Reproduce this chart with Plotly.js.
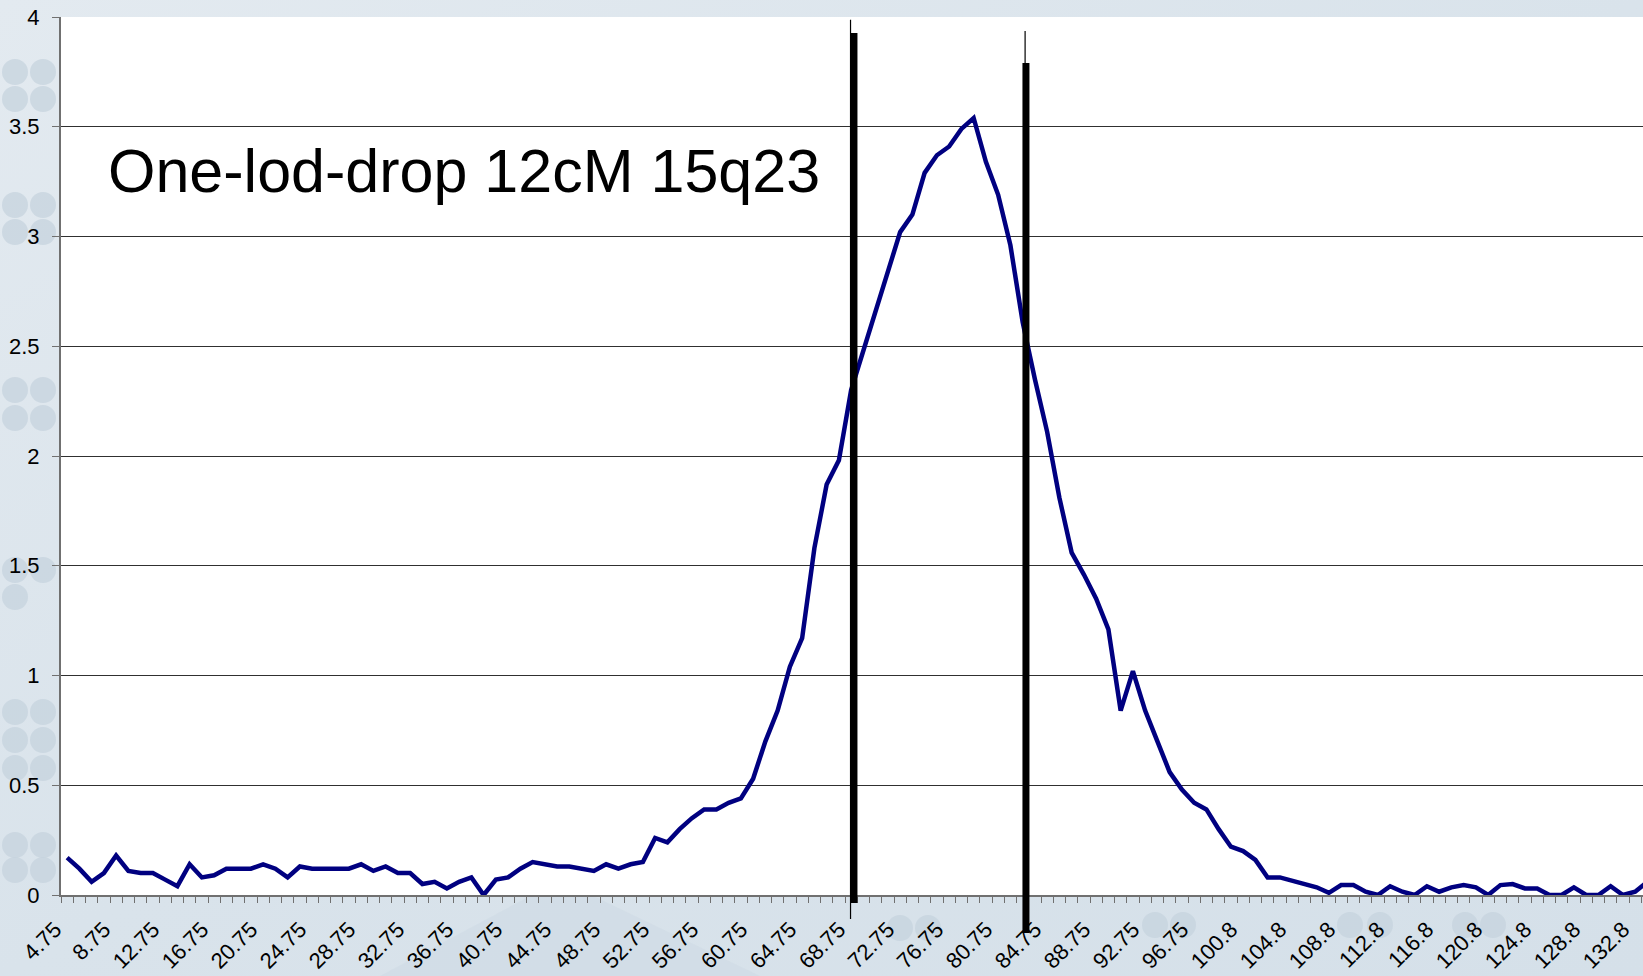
<!DOCTYPE html>
<html>
<head>
<meta charset="utf-8">
<script src="https://cdn.plot.ly/plotly-3.0.1.min.js"></script>
<style>
  html, body { margin: 0; padding: 0; background-color: #dae4ec; }
  #chart { width: 1643px; height: 976px; }
</style>
</head>
<body>
<div id="chart"></div>
<script>
// Map positions (cM) as shown on the category axis
const positions = [
  "4.75","5.75","6.75","7.75","8.75","9.75","10.75","11.75","12.75","13.75",
  "14.75","15.75","16.75","17.75","18.75","19.75","20.75","21.75","22.75","23.75",
  "24.75","25.75","26.75","27.75","28.75","29.75","30.75","31.75","32.75","33.75",
  "34.75","35.75","36.75","37.75","38.75","39.75","40.75","41.75","42.75","43.75",
  "44.75","45.75","46.75","47.75","48.75","49.75","50.75","51.75","52.75","53.75",
  "54.75","55.75","56.75","57.75","58.75","59.75","60.75","61.75","62.75","63.75",
  "64.75","65.75","66.75","67.75","68.75","69.75","70.75","71.75","72.75","73.75",
  "74.75","75.75","76.75","77.75","78.75","79.75","80.75","81.75","82.75","83.75",
  "84.75","85.75","86.75","87.75","88.75","89.75","90.75","91.75","92.75","93.75",
  "94.75","95.75","96.75","97.75","98.75","99.75","100.8","101.8","102.8","103.8",
  "104.8","105.8","106.8","107.8","108.8","109.8","110.8","111.8","112.8","113.8",
  "114.8","115.8","116.8","117.8","118.8","119.8","120.8","121.8","122.8","123.8",
  "124.8","125.8","126.8","127.8","128.8","129.8","130.8","131.8","132.8","133.8"
];

// LOD score at each position
const lod = [
  0.17, 0.12, 0.06, 0.10, 0.18, 0.11, 0.10, 0.10, 0.07, 0.04,
  0.14, 0.08, 0.09, 0.12, 0.12, 0.12, 0.14, 0.12, 0.08, 0.13,
  0.12, 0.12, 0.12, 0.12, 0.14, 0.11, 0.13, 0.10, 0.10, 0.05,
  0.06, 0.03, 0.06, 0.08, 0.00, 0.07, 0.08, 0.12, 0.15, 0.14,
  0.13, 0.13, 0.12, 0.11, 0.14, 0.12, 0.14, 0.15, 0.26, 0.24,
  0.30, 0.35, 0.39, 0.39, 0.42, 0.44, 0.53, 0.70, 0.84, 1.04,
  1.17, 1.58, 1.87, 1.98, 2.30, 2.48, 2.67, 2.84, 3.02, 3.10,
  3.29, 3.37, 3.41, 3.49, 3.54, 3.34, 3.19, 2.96, 2.61, 2.35,
  2.11, 1.81, 1.56, 1.46, 1.35, 1.21, 0.84, 1.02, 0.84, 0.70,
  0.56, 0.48, 0.42, 0.39, 0.30, 0.22, 0.20, 0.16, 0.08, 0.08,
  0.065, 0.045, 0.035, 0.01, 0.045, 0.045, 0.015, 0.00, 0.04, 0.015,
  0.00, 0.04, 0.015, 0.035, 0.045, 0.035, 0.00, 0.045, 0.05, 0.03,
  0.03, 0.00, 0.00, 0.035, 0.00, 0.00, 0.04, 0.00, 0.015, 0.06
];

// Labelled positions on the x axis (every fourth)
const tickLabels = [
  "4.75","8.75","12.75","16.75","20.75","24.75","28.75","32.75","36.75","40.75",
  "44.75","48.75","52.75","56.75","60.75","64.75","68.75","72.75","76.75","80.75",
  "84.75","88.75","92.75","96.75","100.8","104.8","108.8","112.8","116.8","120.8",
  "124.8","128.8","132.8"
];

// Y axis ticks
const yTicks = [0, 0.5, 1, 1.5, 2, 2.5, 3, 3.5, 4];

// One-lod-drop interval marker lines (category index, LOD extents)
const dropLineX    = [64.23, 78.27];
const dropThinX    = [63.95, 78.20];
const dropThickTop = [3.927, 3.79];
const dropThickBot = [-0.036, -0.173];
const dropThinTop  = [3.988, 3.936];
const dropThinBot  = [-0.109, -0.173];

const annotationText = "One-lod-drop 12cM 15q23";

const Y_MAX = 4;

// Slide background (page CSS, behind the transparent plot paper)
const dots = [
  [15,72],[43,72],[15,99],[43,99],[15,205],[43,205],[15,232],[43,232],
  [15,390],[43,390],[15,418],[43,418],[15,570],[43,570],[15,597],
  [15,712],[43,712],[15,740],[43,740],[15,768],[43,768],[15,845],[43,845],[15,870],[43,870],
  [900,928],[928,928],[1155,925],[1183,925],[1465,925],[1493,925],[1350,925],[1380,925]
];
let svg = '<svg xmlns="http://www.w3.org/2000/svg" width="1643" height="976" viewBox="0 0 1643 976">' +
  '<defs><linearGradient id="g" x1="0" y1="0" x2="1" y2="1">' +
  '<stop offset="0" stop-color="#e3eaf0"/><stop offset="0.5" stop-color="#d9e3eb"/><stop offset="1" stop-color="#d5e0e9"/>' +
  '</linearGradient></defs>' +
  '<rect width="1643" height="976" fill="url(#g)"/>' +
  '<polygon points="380,976 560,880 760,976" fill="#cfdae4" opacity="0.6"/>';
dots.forEach(d => { svg += '<circle cx="' + d[0] + '" cy="' + d[1] + '" r="13" fill="#c6d3de" opacity="0.75"/>'; });
svg += '</svg>';
document.body.style.backgroundImage = 'url("data:image/svg+xml;charset=utf-8,' + encodeURIComponent(svg) + '")';
document.body.style.backgroundRepeat = 'no-repeat';

const tickText = positions.map(p => tickLabels.includes(p) ? p : '');

const trace = {
  type: 'scatter',
  mode: 'lines',
  x: positions,
  y: lod,
  line: { color: '#000080', width: 4.5 },
  hoverinfo: 'x+y',
  showlegend: false
};

const shapes = [];
for (let i = 0; i < dropLineX.length; i++) {
  shapes.push({
    type: 'line', xref: 'x', yref: 'paper', layer: 'above',
    x0: dropThinX[i], x1: dropThinX[i],
    y0: dropThinBot[i] / Y_MAX, y1: dropThinTop[i] / Y_MAX,
    line: { color: '#000000', width: 1.2 }
  });
  shapes.push({
    type: 'line', xref: 'x', yref: 'paper', layer: 'above',
    x0: dropLineX[i], x1: dropLineX[i],
    y0: dropThickBot[i] / Y_MAX, y1: dropThickTop[i] / Y_MAX,
    line: { color: '#000000', width: 7 }
  });
}

const FONT = '"Liberation Sans", Arial, sans-serif';

const layout = {
  width: 1643,
  height: 976,
  margin: { l: 61, r: 0, t: 17, b: 81, pad: 0 },
  paper_bgcolor: 'rgba(0,0,0,0)',
  plot_bgcolor: '#ffffff',
  font: { family: FONT, color: '#000000', size: 22 },
  showlegend: false,
  xaxis: {
    type: 'category',
    range: [-0.5, 128.64],
    tickmode: 'array',
    tickvals: positions,
    ticktext: tickText,
    tickson: 'boundaries',
    ticks: 'outside',
    ticklen: 6,
    tickwidth: 1,
    tickcolor: '#707070',
    tickangle: -45,
    ticklabelstandoff: 11,
    ticklabelshift: -12,
    tickfont: { size: 22, color: '#000000', family: FONT },
    showgrid: false,
    showline: true,
    linecolor: '#707070',
    linewidth: 2,
    zeroline: false,
    fixedrange: true
  },
  yaxis: {
    range: [0, Y_MAX],
    tickmode: 'array',
    tickvals: yTicks,
    ticktext: yTicks.map(v => String(v)),
    ticks: 'outside',
    ticklen: 7,
    tickcolor: '#707070',
    ticklabelstandoff: 8,
    tickfont: { size: 22, color: '#000000', family: FONT },
    showgrid: true,
    gridcolor: '#303030',
    gridwidth: 1,
    showline: true,
    linecolor: '#707070',
    linewidth: 2,
    zeroline: false,
    fixedrange: true
  },
  shapes: shapes,
  annotations: [{
    text: annotationText,
    xref: 'paper', yref: 'paper',
    x: 0.0284, y: 0.8246,
    xanchor: 'left', yanchor: 'middle',
    showarrow: false,
    font: { size: 61, color: '#000000', family: FONT }
  }]
};

Plotly.newPlot('chart', [trace], layout, { displayModeBar: false, staticPlot: true });
</script>
</body>
</html>
